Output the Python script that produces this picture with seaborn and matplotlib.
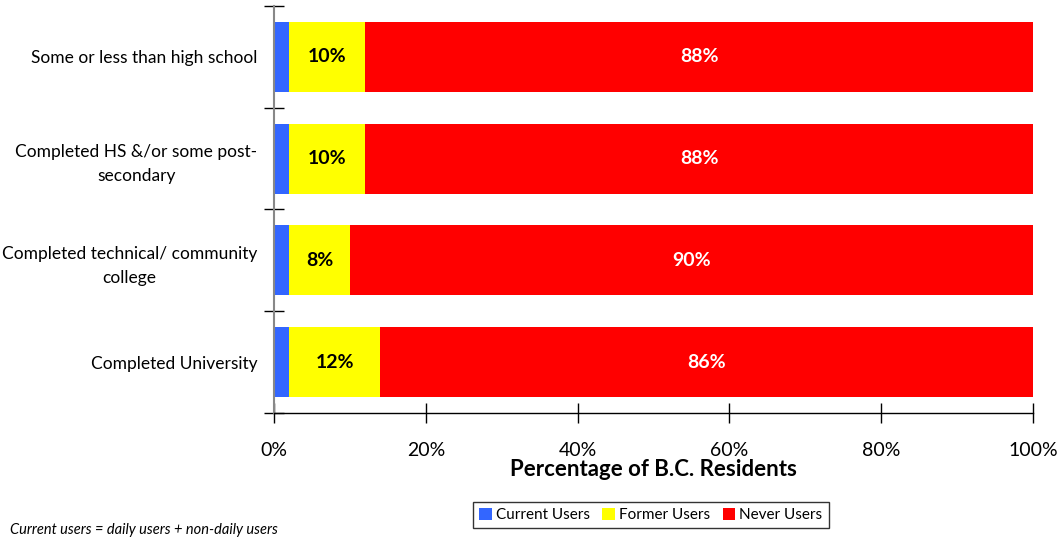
import matplotlib
matplotlib.use("Agg")
import matplotlib.pyplot as plt
import seaborn as sns
import pandas as pd
import numpy as np

categories = ["Some or less than high school",
              "Completed HS &/or some post-\nsecondary",
              "Completed technical/ community\ncollege",
              "Completed University"]
current = [2, 2, 2, 2]
former = [10, 10, 8, 12]
never = [88, 88, 90, 86]
former_labels = ["10%", "10%", "8%", "12%"]
never_labels = ["88%", "88%", "90%", "86%"]
series_names = ["Current Users", "Former Users", "Never Users"]
colors = ["#3366FF", "#FFFF00", "#FF0000"]
xticks = [0, 20, 40, 60, 80, 100]

sns.set_style("white")
plt.rcParams['font.family'] = ['Lato', 'DejaVu Sans']
plt.rcParams['text.color'] = 'black'
plt.rcParams['xtick.color'] = 'black'
plt.rcParams['ytick.color'] = 'black'
plt.rcParams['axes.labelcolor'] = 'black'

fig = plt.figure(figsize=(10.62, 5.39), dpi=100)
ax = fig.add_axes([0.258, 0.2338, 0.7147, 0.7551])

cum1 = np.array(current)
cum2 = cum1 + np.array(former)
cum3 = cum2 + np.array(never)

df = pd.DataFrame({"cat": categories, "c1": cum1, "c2": cum2, "c3": cum3})
for col, colr in zip(["c3", "c2", "c1"], colors[::-1]):
    sns.barplot(data=df, x=col, y="cat", order=categories, color=colr,
                orient="h", width=0.69, ax=ax, saturation=1, linewidth=0)

for i in range(len(categories)):
    ax.text((cum1[i] + cum2[i]) / 2, i, former_labels[i], ha="center", va="center",
            fontsize=14, fontweight="bold", color="black")
    ax.text((cum2[i] + cum3[i]) / 2, i, never_labels[i], ha="center", va="center",
            fontsize=14, fontweight="bold", color="white")

ax.set_xlim(0, 100)
ax.set_ylim(3.5, -0.5)
ax.set_xticks(xticks)
ax.set_xticklabels([f"{v}%" for v in xticks], fontsize=14)
ax.set_yticks(range(len(categories)))
ax.set_yticklabels(categories, fontsize=12.5, multialignment="center", linespacing=1.6)
ax.set_yticks(np.arange(-0.5, 4, 1), minor=True)
ax.tick_params(axis="y", which="major", left=True, length=0, pad=12)
ax.tick_params(axis="y", which="minor", left=True, length=15, direction="inout", width=1, color="black")
ax.tick_params(axis="x", which="major", bottom=True, length=14, direction="inout", width=1, color="black", pad=14)
ax.set_xlabel("Percentage of B.C. Residents", fontsize=16, fontweight="bold", labelpad=0)
ax.set_ylabel("")

for s in ["top", "right"]:
    ax.spines[s].set_visible(False)
ax.spines["left"].set_color("#888888")
ax.spines["left"].set_linewidth(1.5)
ax.spines["bottom"].set_color("black")
ax.spines["bottom"].set_linewidth(1)

from matplotlib.patches import Patch
handles = [Patch(facecolor=c, edgecolor="none") for c in colors]
leg = fig.legend(handles, series_names, loc="center", bbox_to_anchor=(651/1062, 1 - 515/539),
                 ncol=3, frameon=True, fontsize=11, handlelength=0.8, handleheight=0.8,
                 handletextpad=0.3, columnspacing=0.8, borderpad=0.4, fancybox=False)
leg.get_frame().set_edgecolor("black")
leg.get_frame().set_linewidth(1)

fig.text(10/1062, 1 - 530/539, "Current users = daily users + non-daily users",
         fontsize=10.5, fontstyle="italic", va="center", ha="left")

fig.savefig("out.png", dpi=100)
